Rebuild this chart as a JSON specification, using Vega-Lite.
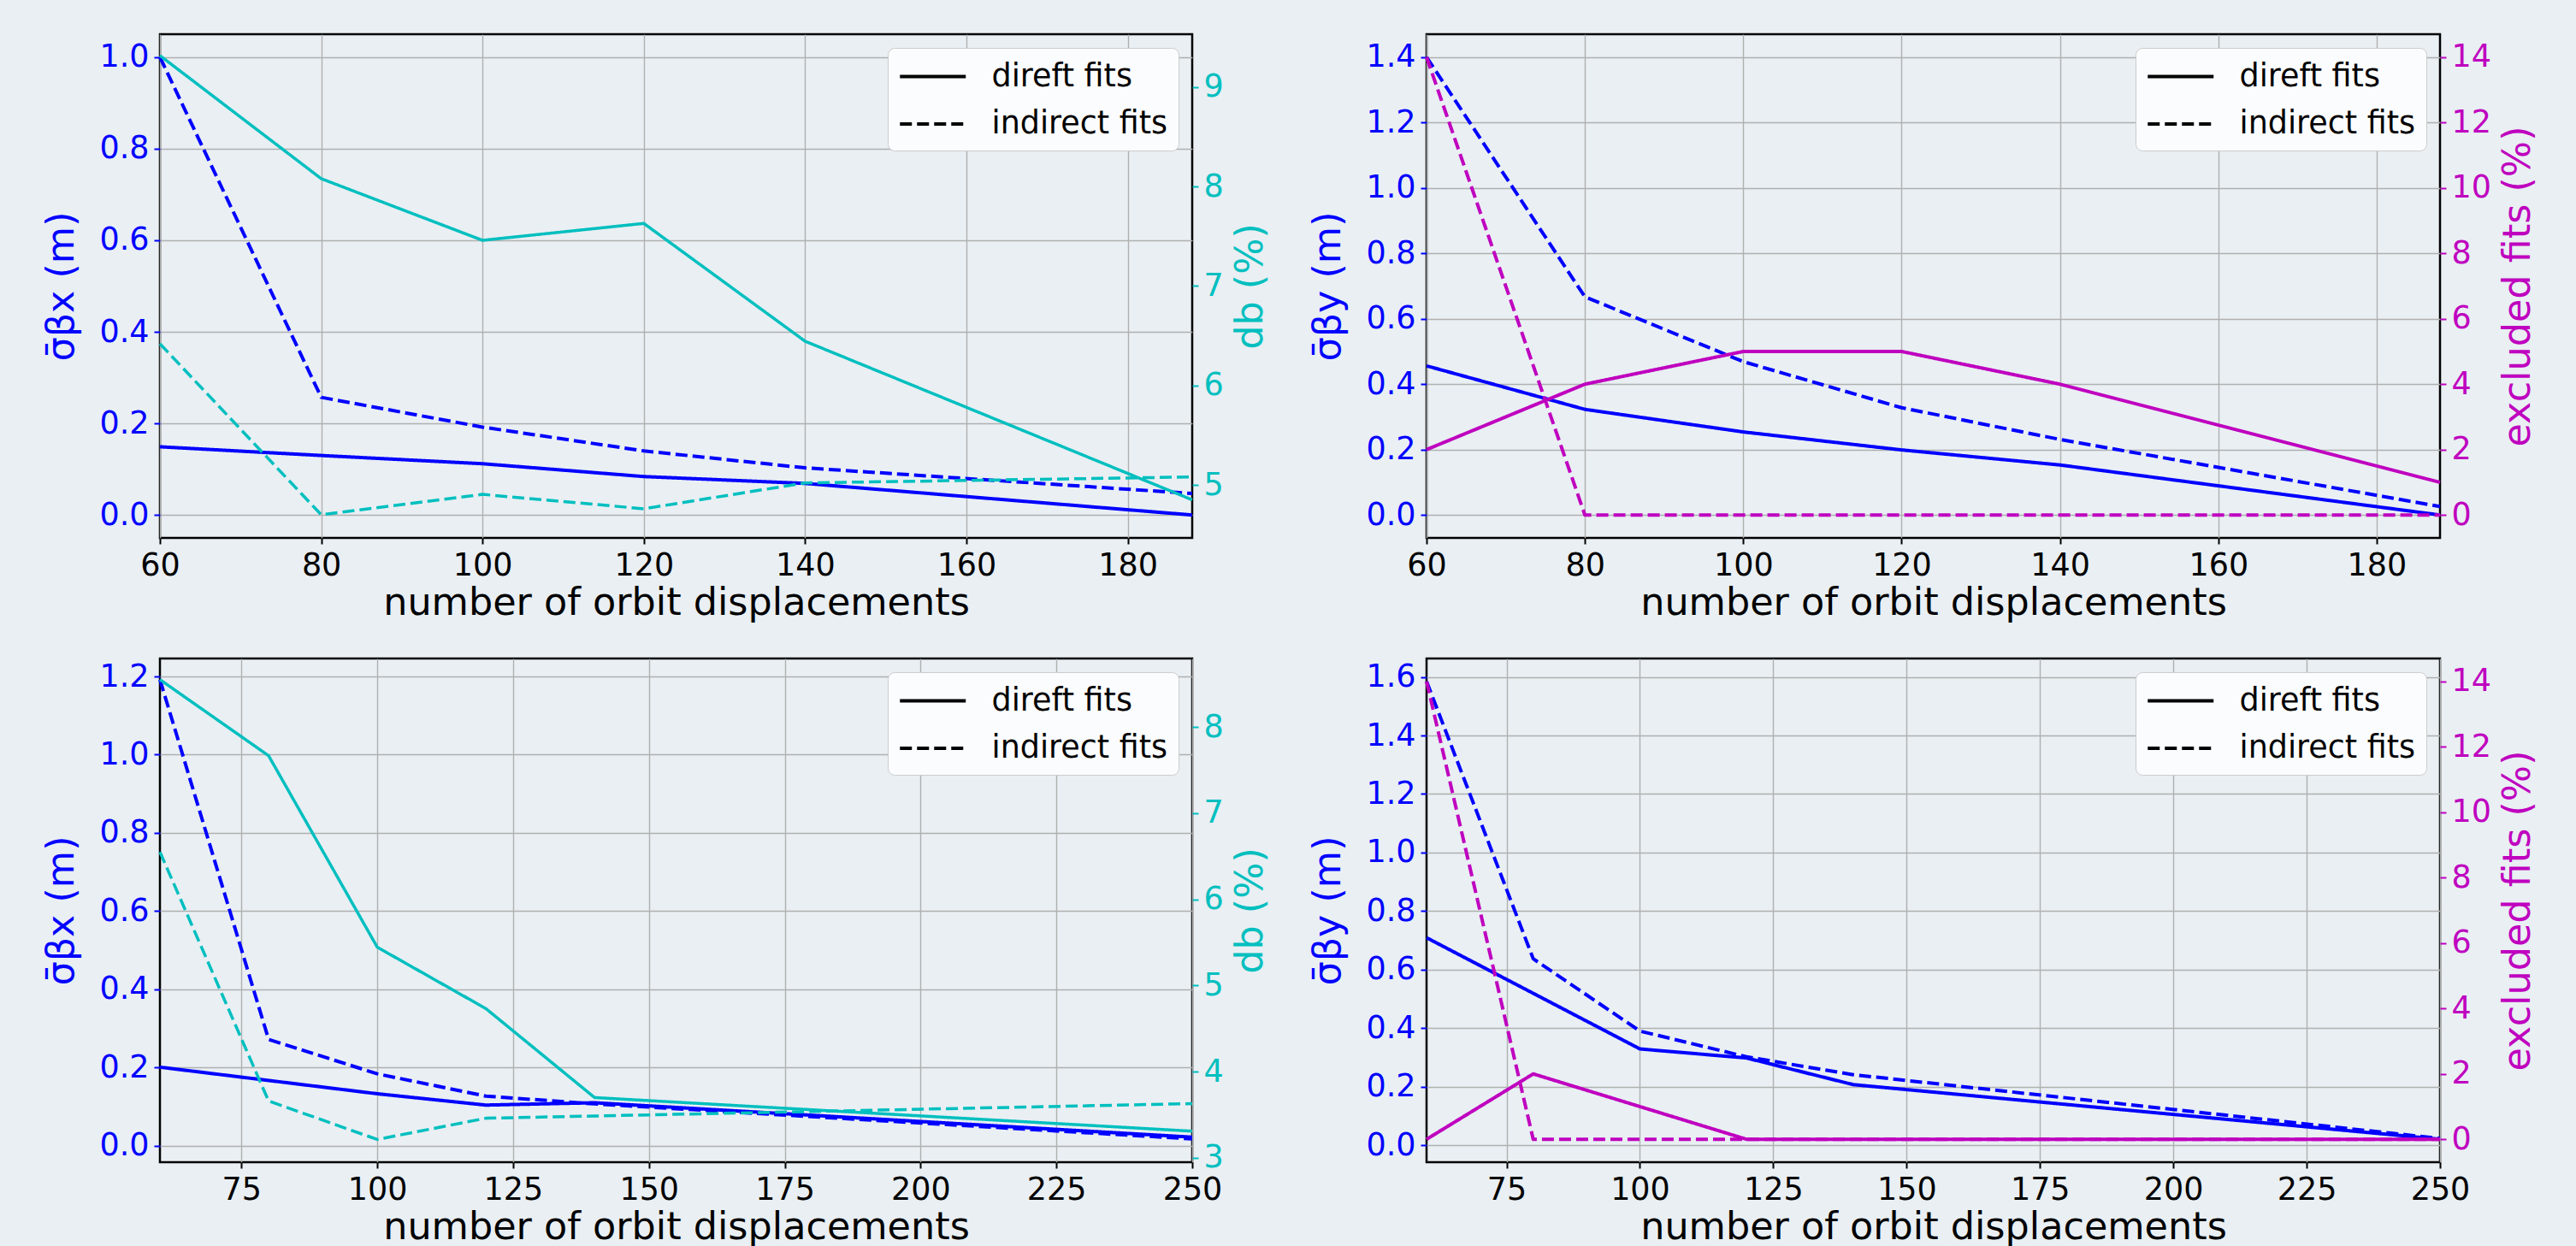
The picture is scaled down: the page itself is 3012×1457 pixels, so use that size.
{
  "$schema": "https://vega.github.io/schema/vega-lite/v6.json",
  "background": "#E9EFF3",
  "padding": {"left": 48, "top": 38, "right": 45, "bottom": 1},
  "datasets": {
    "p1": [
      {"n": 60, "fit": "direft fits", "axis": "left", "value": 0.149},
      {"n": 80, "fit": "direft fits", "axis": "left", "value": 0.130},
      {"n": 100, "fit": "direft fits", "axis": "left", "value": 0.112},
      {"n": 120, "fit": "direft fits", "axis": "left", "value": 0.084},
      {"n": 140, "fit": "direft fits", "axis": "left", "value": 0.069},
      {"n": 188, "fit": "direft fits", "axis": "left", "value": 0.0},
      {"n": 60, "fit": "indirect fits", "axis": "left", "value": 1.0},
      {"n": 80, "fit": "indirect fits", "axis": "left", "value": 0.257},
      {"n": 100, "fit": "indirect fits", "axis": "left", "value": 0.192},
      {"n": 120, "fit": "indirect fits", "axis": "left", "value": 0.140},
      {"n": 140, "fit": "indirect fits", "axis": "left", "value": 0.103},
      {"n": 188, "fit": "indirect fits", "axis": "left", "value": 0.047},
      {"n": 60, "fit": "direft fits", "axis": "right", "value": 9.318},
      {"n": 80, "fit": "direft fits", "axis": "right", "value": 8.08},
      {"n": 100, "fit": "direft fits", "axis": "right", "value": 7.46},
      {"n": 120, "fit": "direft fits", "axis": "right", "value": 7.63},
      {"n": 140, "fit": "direft fits", "axis": "right", "value": 6.445},
      {"n": 188, "fit": "direft fits", "axis": "right", "value": 4.85},
      {"n": 60, "fit": "indirect fits", "axis": "right", "value": 6.42},
      {"n": 80, "fit": "indirect fits", "axis": "right", "value": 4.70},
      {"n": 100, "fit": "indirect fits", "axis": "right", "value": 4.905},
      {"n": 120, "fit": "indirect fits", "axis": "right", "value": 4.76},
      {"n": 140, "fit": "indirect fits", "axis": "right", "value": 5.02},
      {"n": 188, "fit": "indirect fits", "axis": "right", "value": 5.08}
    ],
    "p2": [
      {"n": 60, "fit": "direft fits", "axis": "left", "value": 0.456},
      {"n": 80, "fit": "direft fits", "axis": "left", "value": 0.323},
      {"n": 100, "fit": "direft fits", "axis": "left", "value": 0.254},
      {"n": 120, "fit": "direft fits", "axis": "left", "value": 0.199},
      {"n": 140, "fit": "direft fits", "axis": "left", "value": 0.153},
      {"n": 188, "fit": "direft fits", "axis": "left", "value": 0.0},
      {"n": 60, "fit": "indirect fits", "axis": "left", "value": 1.40},
      {"n": 80, "fit": "indirect fits", "axis": "left", "value": 0.667},
      {"n": 100, "fit": "indirect fits", "axis": "left", "value": 0.469},
      {"n": 120, "fit": "indirect fits", "axis": "left", "value": 0.328},
      {"n": 140, "fit": "indirect fits", "axis": "left", "value": 0.231},
      {"n": 188, "fit": "indirect fits", "axis": "left", "value": 0.026},
      {"n": 60, "fit": "direft fits", "axis": "right", "value": 2},
      {"n": 80, "fit": "direft fits", "axis": "right", "value": 4},
      {"n": 100, "fit": "direft fits", "axis": "right", "value": 5},
      {"n": 120, "fit": "direft fits", "axis": "right", "value": 5},
      {"n": 140, "fit": "direft fits", "axis": "right", "value": 4},
      {"n": 188, "fit": "direft fits", "axis": "right", "value": 1},
      {"n": 60, "fit": "indirect fits", "axis": "right", "value": 14},
      {"n": 80, "fit": "indirect fits", "axis": "right", "value": 0},
      {"n": 100, "fit": "indirect fits", "axis": "right", "value": 0},
      {"n": 120, "fit": "indirect fits", "axis": "right", "value": 0},
      {"n": 140, "fit": "indirect fits", "axis": "right", "value": 0},
      {"n": 188, "fit": "indirect fits", "axis": "right", "value": 0}
    ],
    "p3": [
      {"n": 60, "fit": "direft fits", "axis": "left", "value": 0.201},
      {"n": 80, "fit": "direft fits", "axis": "left", "value": 0.167},
      {"n": 100, "fit": "direft fits", "axis": "left", "value": 0.133},
      {"n": 120, "fit": "direft fits", "axis": "left", "value": 0.104},
      {"n": 140, "fit": "direft fits", "axis": "left", "value": 0.110},
      {"n": 250, "fit": "direft fits", "axis": "left", "value": 0.022},
      {"n": 60, "fit": "indirect fits", "axis": "left", "value": 1.192},
      {"n": 80, "fit": "indirect fits", "axis": "left", "value": 0.272},
      {"n": 100, "fit": "indirect fits", "axis": "left", "value": 0.184},
      {"n": 120, "fit": "indirect fits", "axis": "left", "value": 0.127},
      {"n": 140, "fit": "indirect fits", "axis": "left", "value": 0.107},
      {"n": 250, "fit": "indirect fits", "axis": "left", "value": 0.0175},
      {"n": 60, "fit": "direft fits", "axis": "right", "value": 8.55},
      {"n": 80, "fit": "direft fits", "axis": "right", "value": 7.667},
      {"n": 100, "fit": "direft fits", "axis": "right", "value": 5.445},
      {"n": 120, "fit": "direft fits", "axis": "right", "value": 4.732},
      {"n": 140, "fit": "direft fits", "axis": "right", "value": 3.70},
      {"n": 250, "fit": "direft fits", "axis": "right", "value": 3.31},
      {"n": 60, "fit": "indirect fits", "axis": "right", "value": 6.55},
      {"n": 80, "fit": "indirect fits", "axis": "right", "value": 3.66},
      {"n": 100, "fit": "indirect fits", "axis": "right", "value": 3.214},
      {"n": 120, "fit": "indirect fits", "axis": "right", "value": 3.46},
      {"n": 140, "fit": "indirect fits", "axis": "right", "value": 3.486},
      {"n": 250, "fit": "indirect fits", "axis": "right", "value": 3.63}
    ],
    "p4": [
      {"n": 60, "fit": "direft fits", "axis": "left", "value": 0.709},
      {"n": 80, "fit": "direft fits", "axis": "left", "value": 0.519},
      {"n": 100, "fit": "direft fits", "axis": "left", "value": 0.329},
      {"n": 120, "fit": "direft fits", "axis": "left", "value": 0.298},
      {"n": 140, "fit": "direft fits", "axis": "left", "value": 0.207},
      {"n": 250, "fit": "direft fits", "axis": "left", "value": 0.0205},
      {"n": 60, "fit": "indirect fits", "axis": "left", "value": 1.585},
      {"n": 80, "fit": "indirect fits", "axis": "left", "value": 0.637},
      {"n": 100, "fit": "indirect fits", "axis": "left", "value": 0.390},
      {"n": 120, "fit": "indirect fits", "axis": "left", "value": 0.302},
      {"n": 140, "fit": "indirect fits", "axis": "left", "value": 0.241},
      {"n": 250, "fit": "indirect fits", "axis": "left", "value": 0.023},
      {"n": 60, "fit": "direft fits", "axis": "right", "value": 0},
      {"n": 80, "fit": "direft fits", "axis": "right", "value": 2},
      {"n": 100, "fit": "direft fits", "axis": "right", "value": 1},
      {"n": 120, "fit": "direft fits", "axis": "right", "value": 0},
      {"n": 140, "fit": "direft fits", "axis": "right", "value": 0},
      {"n": 250, "fit": "direft fits", "axis": "right", "value": 0},
      {"n": 60, "fit": "indirect fits", "axis": "right", "value": 14},
      {"n": 80, "fit": "indirect fits", "axis": "right", "value": 0},
      {"n": 100, "fit": "indirect fits", "axis": "right", "value": 0},
      {"n": 120, "fit": "indirect fits", "axis": "right", "value": 0},
      {"n": 140, "fit": "indirect fits", "axis": "right", "value": 0},
      {"n": 250, "fit": "indirect fits", "axis": "right", "value": 0}
    ]
  },
  "columns": 2,
  "spacing": {"row": 141, "column": 274},
  "bounds": "flush",
  "resolve": {"scale": {"strokeDash": "independent", "x": "independent", "y": "independent"}, "legend": {"strokeDash": "independent"}, "axis": {"x": "independent", "y": "independent"}},
  "concat": [
    {
      "width": 1207, "height": 589,
      "data": {"name": "p1"},
      "encoding": {
        "x": {"field": "n", "type": "quantitative", "scale": {"domain": [60, 188], "nice": false, "zero": false},
              "axis": {"values": [60, 80, 100, 120, 140, 160, 180], "title": "number of orbit displacements"}},
        "strokeDash": {"field": "fit", "type": "nominal", "scale": {"domain": ["direft fits", "indirect fits"], "range": [[1, 0], [14, 6]]}, "legend": {"title": null}}
      },
      "layer": [
        {
          "transform": [{"filter": "datum.axis === 'left'"}],
          "mark": {"type": "line", "color": "#0000FF", "strokeWidth": 4},
          "encoding": {"y": {"field": "value", "type": "quantitative", "scale": {"domain": [-0.05, 1.05], "nice": false, "zero": false},
            "axis": {"orient": "left", "values": [0, 0.2, 0.4, 0.6, 0.8, 1.0], "format": ".1f", "title": "σ̄βx (m)", "grid": true, "labelColor": "#0000FF", "titleColor": "#0000FF", "tickColor": "#0000FF", "titlePadding": 21}}}
        },
        {
          "transform": [{"filter": "datum.axis === 'right'"}],
          "mark": {"type": "line", "color": "#00BFBF", "strokeWidth": 3.5},
          "encoding": {"y": {"field": "value", "type": "quantitative", "scale": {"domain": [4.467, 9.533], "nice": false, "zero": false},
            "axis": {"orient": "right", "values": [5, 6, 7, 8, 9], "format": "d", "title": "db (%)", "grid": false, "labelColor": "#00BFBF", "titleColor": "#00BFBF", "tickColor": "#00BFBF", "titleAngle": 270, "titleBaseline": "top", "titlePadding": 10}}}
        }
      ],
      "resolve": {"scale": {"y": "independent"}}
    },
    {
      "width": 1185, "height": 589,
      "data": {"name": "p2"},
      "encoding": {
        "x": {"field": "n", "type": "quantitative", "scale": {"domain": [60, 188], "nice": false, "zero": false},
              "axis": {"values": [60, 80, 100, 120, 140, 160, 180], "title": "number of orbit displacements"}},
        "strokeDash": {"field": "fit", "type": "nominal", "scale": {"domain": ["direft fits", "indirect fits"], "range": [[1, 0], [14, 6]]}, "legend": {"title": null}}
      },
      "layer": [
        {
          "transform": [{"filter": "datum.axis === 'left'"}],
          "mark": {"type": "line", "color": "#0000FF", "strokeWidth": 4},
          "encoding": {"y": {"field": "value", "type": "quantitative", "scale": {"domain": [-0.07, 1.47], "nice": false, "zero": false},
            "axis": {"orient": "left", "values": [0, 0.2, 0.4, 0.6, 0.8, 1.0, 1.2, 1.4], "format": ".1f", "title": "σ̄βy (m)", "grid": true, "labelColor": "#0000FF", "titleColor": "#0000FF", "tickColor": "#0000FF", "titlePadding": 21}}}
        },
        {
          "transform": [{"filter": "datum.axis === 'right'"}],
          "mark": {"type": "line", "color": "#BF00BF", "strokeWidth": 4},
          "encoding": {"y": {"field": "value", "type": "quantitative", "scale": {"domain": [-0.7, 14.7], "nice": false, "zero": false},
            "axis": {"orient": "right", "values": [0, 2, 4, 6, 8, 10, 12, 14], "format": "d", "title": "excluded fits (%)", "grid": false, "labelColor": "#BF00BF", "titleColor": "#BF00BF", "tickColor": "#BF00BF", "titleAngle": 270, "titleBaseline": "top", "titlePadding": 10}}}
        }
      ],
      "resolve": {"scale": {"y": "independent"}}
    },
    {
      "width": 1207, "height": 589,
      "data": {"name": "p3"},
      "encoding": {
        "x": {"field": "n", "type": "quantitative", "scale": {"domain": [60, 250], "nice": false, "zero": false},
              "axis": {"values": [75, 100, 125, 150, 175, 200, 225, 250], "title": "number of orbit displacements"}},
        "strokeDash": {"field": "fit", "type": "nominal", "scale": {"domain": ["direft fits", "indirect fits"], "range": [[1, 0], [14, 6]]}, "legend": {"title": null}}
      },
      "layer": [
        {
          "transform": [{"filter": "datum.axis === 'left'"}],
          "mark": {"type": "line", "color": "#0000FF", "strokeWidth": 4},
          "encoding": {"y": {"field": "value", "type": "quantitative", "scale": {"domain": [-0.042, 1.246], "nice": false, "zero": false},
            "axis": {"orient": "left", "values": [0, 0.2, 0.4, 0.6, 0.8, 1.0, 1.2], "format": ".1f", "title": "σ̄βx (m)", "grid": true, "labelColor": "#0000FF", "titleColor": "#0000FF", "tickColor": "#0000FF", "titlePadding": 21}}}
        },
        {
          "transform": [{"filter": "datum.axis === 'right'"}],
          "mark": {"type": "line", "color": "#00BFBF", "strokeWidth": 3.5},
          "encoding": {"y": {"field": "value", "type": "quantitative", "scale": {"domain": [2.95, 8.795], "nice": false, "zero": false},
            "axis": {"orient": "right", "values": [3, 4, 5, 6, 7, 8], "format": "d", "title": "db (%)", "grid": false, "labelColor": "#00BFBF", "titleColor": "#00BFBF", "tickColor": "#00BFBF", "titleAngle": 270, "titleBaseline": "top", "titlePadding": 10}}}
        }
      ],
      "resolve": {"scale": {"y": "independent"}}
    },
    {
      "width": 1185, "height": 589,
      "data": {"name": "p4"},
      "encoding": {
        "x": {"field": "n", "type": "quantitative", "scale": {"domain": [60, 250], "nice": false, "zero": false},
              "axis": {"values": [75, 100, 125, 150, 175, 200, 225, 250], "title": "number of orbit displacements"}},
        "strokeDash": {"field": "fit", "type": "nominal", "scale": {"domain": ["direft fits", "indirect fits"], "range": [[1, 0], [14, 6]]}, "legend": {"title": null}}
      },
      "layer": [
        {
          "transform": [{"filter": "datum.axis === 'left'"}],
          "mark": {"type": "line", "color": "#0000FF", "strokeWidth": 4},
          "encoding": {"y": {"field": "value", "type": "quantitative", "scale": {"domain": [-0.058, 1.663], "nice": false, "zero": false},
            "axis": {"orient": "left", "values": [0, 0.2, 0.4, 0.6, 0.8, 1.0, 1.2, 1.4, 1.6], "format": ".1f", "title": "σ̄βy (m)", "grid": true, "labelColor": "#0000FF", "titleColor": "#0000FF", "tickColor": "#0000FF", "titlePadding": 21}}}
        },
        {
          "transform": [{"filter": "datum.axis === 'right'"}],
          "mark": {"type": "line", "color": "#BF00BF", "strokeWidth": 4},
          "encoding": {"y": {"field": "value", "type": "quantitative", "scale": {"domain": [-0.7, 14.7], "nice": false, "zero": false},
            "axis": {"orient": "right", "values": [0, 2, 4, 6, 8, 10, 12, 14], "format": "d", "title": "excluded fits (%)", "grid": false, "labelColor": "#BF00BF", "titleColor": "#BF00BF", "tickColor": "#BF00BF", "titleAngle": 270, "titleBaseline": "top", "titlePadding": 10}}}
        }
      ],
      "resolve": {"scale": {"y": "independent"}}
    }
  ],
  "config": {
    "font": "DejaVu Sans",
    "view": {"stroke": "#000000", "strokeWidth": 2.5, "fill": "#E9EFF3"},
    "axis": {"labelFont": "DejaVu Sans", "titleFont": "DejaVu Sans", "labelFontSize": 36.5, "titleFontSize": 44.5, "titleFontWeight": "normal", "tickSize": 7, "tickWidth": 2, "domain": false, "gridColor": "#b0b0b0", "gridWidth": 1.6, "labelFlush": false, "labelOverlap": false, "labelBound": false, "labelPadding": 6},
    "axisX": {"grid": true, "labelColor": "#000000", "titleColor": "#000000", "tickColor": "#000000", "labelPadding": 7, "titlePadding": 4, "gridWidth": 1.4},
    "legend": {"orient": "top-right", "offset": 16, "fillColor": "#FBFCFD", "strokeColor": "#CCCCCC", "cornerRadius": 8, "padding": 12, "labelFont": "DejaVu Sans", "labelFontSize": 36.5, "labelColor": "#000000", "labelLimit": 600, "symbolType": "M-1,0H3", "symbolSize": 1482, "symbolStrokeWidth": 4, "symbolStrokeColor": "#000000", "symbolFillColor": "transparent", "labelOffset": 66.5, "rowPadding": 15.5},
    "line": {"strokeCap": "butt", "strokeJoin": "round"}
  }
}
